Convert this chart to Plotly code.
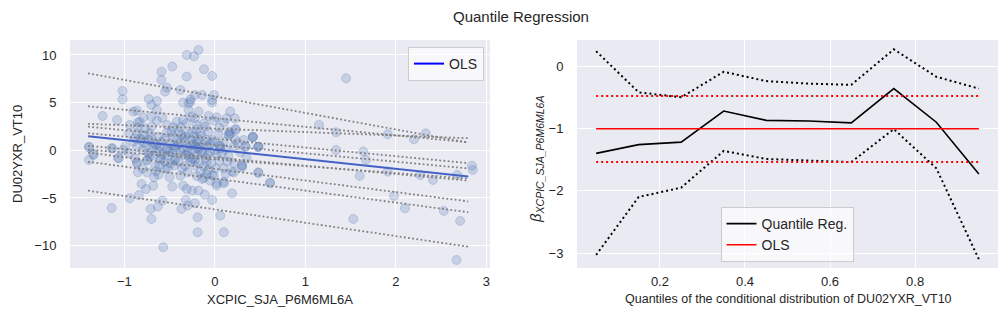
import plotly.graph_objects as go

# ---------------- data ----------------
scatter_xy = [
    # upper-left cloud
    (-0.31, 10.0), (-0.23, 9.86), (-0.47, 8.78), (-0.59, 8.25), (-0.31, 7.73), (-0.59, 7.38),
    (-0.53, 6.57), (-0.55, 6.15), (-0.38, 6.33), (-1.02, 6.22), (-1.02, 5.35), (-0.73, 5.38),
    (-0.64, 5.17), (-0.70, 4.76), (-0.90, 4.06), (-0.86, 4.16), (-0.64, 4.23), (-1.24, 3.60),
    (-1.08, 3.18), (-0.79, 3.43), (-0.70, 3.53), (-0.58, 3.43), (-0.83, 3.00), (-0.64, 3.11),
    (-0.29, 4.93), (-0.29, 4.23), (-0.35, 5.00), (-0.27, 5.35), (-0.42, 3.00), (-0.35, 3.18),
    (-0.53, 2.66), (-0.94, 2.66), (-0.85, 2.41), (-0.77, 2.31), (-0.70, 2.48), (-0.46, 2.41),
    (-0.38, 2.41), (-0.31, 2.83), (-0.26, 3.53), (-0.86, 1.78), (-0.79, 1.61), (-0.72, 1.78),
    (-0.62, 1.43), (-0.53, 1.85), (-0.46, 1.43), (-0.37, 1.61), (-0.29, 1.78), (-0.88, 1.26),
    (-0.81, 1.08), (-0.73, 1.08), (-0.68, 0.73), (-0.59, 0.91), (-0.50, 0.73), (-0.42, 1.08),
    (-0.33, 0.91), (-0.26, 0.56), (-1.39, 0.38), (-1.13, 0.21), (-0.99, 0.38), (-0.86, 0.31),
    (-0.75, 0.45), (-0.64, 0.21), (-0.53, 0.03), (-0.44, 0.03), (-0.35, 0.21),
    # upper-middle cloud
    (-0.18, 10.52), (-0.12, 8.50), (-0.03, 7.80), (-0.01, 5.80), (-0.03, 5.28), (-0.03, 5.00),
    (-0.14, 5.80), (-0.22, 5.80), (-0.27, 5.10), (0.17, 4.06), (-0.18, 4.06), (-0.07, 3.60),
    (0.02, 3.46), (0.13, 3.36), (0.22, 3.36), (-0.22, 3.36), (-0.01, 3.11), (0.10, 2.90),
    (-0.12, 2.83), (-0.20, 2.66), (0.23, 2.13), (0.16, 1.61), (0.16, 1.96), (0.04, 1.78),
    (-0.07, 1.96), (-0.16, 1.78), (0.42, 1.36), (0.32, 1.08), (0.23, 1.08), (0.10, 0.91),
    (-0.03, 1.08), (-0.18, 1.15), (-0.23, 1.43), (0.48, 0.38), (0.34, 0.38), (0.21, 0.45),
    (0.06, 0.45), (-0.09, 0.38), (-0.20, 0.21), (-0.25, 0.91),
    # dense core
    (-0.23, 0.56), (-0.20, 0.91), (-0.16, 0.38), (-0.25, 0.03), (-0.20, -0.49), (-0.22, -1.01),
    (-0.18, -1.36), (-0.12, -1.71), (-0.16, -2.24), (-0.07, -2.06), (0.01, -1.89), (0.10, -1.89),
    (0.14, -1.19), (0.21, -1.36), (0.30, -1.54), (0.02, -0.49), (-0.05, -0.14), (0.06, 0.21),
    (0.15, 1.61), (0.17, 1.78), (0.23, 2.24), (0.34, 0.38), (0.42, 1.43), (0.48, 0.38),
    (-0.44, -0.84), (-0.49, -1.36), (-0.60, -0.84), (-0.52, -1.89), (-0.66, -1.71), (-0.75, -1.01),
    (-0.88, -0.84), (-0.86, -1.36), (-0.95, -0.31), (-1.06, -0.84), (-1.14, 0.21), (-1.01, 0.03),
    (-1.39, 0.31), (-1.34, -0.49), (-0.36, -1.89), (-0.27, -1.19), (-0.09, -1.19), (-0.03, -2.59),
    (0.02, -3.46), (0.10, -3.29), (0.19, -2.24), (-0.01, 0.91), (-0.09, 1.08), (-0.33, 1.43),
    (-0.38, -0.14), (-0.31, -0.49), (-0.42, 0.38), (-0.69, 0.21), (-0.80, 0.03), (-0.73, -0.31),
    (-0.62, -0.14), (-0.53, 0.21), (-0.82, 1.26), (-0.14, -0.30), (-0.10, -0.80), (-0.28, -0.70),
    (0.05, -1.10), (-0.18, 0.10), (-0.30, -0.20), (0.08, -0.30), (-0.12, 0.60), (-0.22, -1.60),
    (-0.65, 0.60), (-0.58, -0.40), (-0.47, -0.30), (-0.40, 0.65), (0.12, 0.10), (-0.04, -1.40),
    (-0.45, 0.50), (-0.55, 1.20), (-0.35, 1.30), (-0.15, 1.50), (-0.05, 0.70), (0.00, 0.00),
    (-0.08, -0.50), (-0.25, -0.90), (-0.35, -0.50), (-0.60, 0.40), (-0.70, 1.30), (-0.78, 0.80),
    (-0.90, 0.90), (-0.95, 1.80), (-0.40, 2.00), (-0.20, 2.20), (0.05, 2.40), (0.25, 0.80),
    (0.15, -0.60), (0.28, -0.20), (-0.12, -2.90), (-0.30, -2.30), (-0.45, -1.60), (-0.55, -1.20),
    (-0.65, -2.20), (-0.80, -1.90), (-0.25, 1.90), (-0.48, 1.90), (-0.10, 2.50), (0.35, -0.80),
    (-0.60, -1.00), (-0.05, -3.20), (-0.30, 0.30), (-0.15, -0.10), (0.05, 0.50), (-0.50, -0.10),
    (-0.72, -0.60), (-0.40, -1.20), (-0.20, -2.70), (-0.85, 2.90),
    # lower-left cloud
    (-1.39, -1.01), (-1.14, -6.05), (-0.94, -5.03), (-0.84, -4.69), (-0.81, -3.53), (-0.76, -4.06),
    (-0.68, -3.71), (-0.70, -7.20), (-0.71, -6.15), (-0.63, -5.91), (-0.58, -5.28), (-0.57, -10.17),
    (-0.47, -3.81), (-0.37, -6.15), (-0.32, -5.21), (-0.22, -5.56), (-0.30, -5.80), (-0.19, -7.03),
    (-0.19, -8.60), (-0.11, -4.65), (-0.03, -5.21), (0.06, -6.85), (0.10, -8.60), (0.19, -4.51),
    (0.02, -3.71), (0.10, -3.46), (0.30, -1.78), (0.48, -2.38), (0.61, -3.46), (-0.25, -4.23),
    (-0.18, -4.23), (-0.14, -3.00), (-0.09, -2.48), (-0.01, -2.66), (0.12, -2.48), (0.21, -2.31),
    (-1.34, -0.38), (-1.07, -0.80), (-0.86, -1.26), (-0.75, -1.08), (-0.85, -2.31), (-0.75, -2.31),
    (-0.67, -2.83), (-0.62, -2.55), (-0.55, -1.96), (-0.50, -2.83), (-0.61, -1.61), (-0.31, -4.06),
    (-0.35, -3.71), (-0.38, -2.66), (-0.33, -1.61), (-0.44, -1.08), (-0.68, -0.56), (-0.53, -0.56),
    # right sparse points
    (1.45, 7.55), (1.15, 2.66), (1.34, 1.89), (1.91, 1.68), (2.20, 1.15), (2.33, 1.78),
    (1.34, 0.03), (1.64, -0.14), (1.67, -1.01), (1.60, -2.69), (1.91, -2.24), (2.27, -2.59),
    (2.41, -3.11), (2.68, -2.59), (2.84, -1.61), (2.85, -2.06), (1.98, -4.79), (2.10, -6.08),
    (2.53, -6.36), (2.71, -7.41), (1.53, -7.20), (2.67, -11.5), (0.61, -3.39), (0.48, -2.31),
    (0.42, 1.40), (0.48, 0.35), (0.30, -1.64),
]
scatter_x = [p[0] for p in scatter_xy]
scatter_y = [p[1] for p in scatter_xy]

# quantile regression results
quantiles = [0.05, 0.15, 0.25, 0.35, 0.45, 0.55, 0.65, 0.75, 0.85, 0.95]
qr_coef = [-1.40, -1.26, -1.22, -0.72, -0.87, -0.88, -0.91, -0.36, -0.90, -1.73]
qr_lower = [-3.03, -2.10, -1.95, -1.36, -1.49, -1.51, -1.54, -1.01, -1.64, -3.10]
qr_upper = [0.24, -0.42, -0.50, -0.09, -0.24, -0.28, -0.30, 0.27, -0.17, -0.36]
qr_intercept = [-6.20, -2.97, -1.95, -0.95, -0.75, 0.56, 1.20, 2.27, 3.36, 5.65]

ols_coef = -1.005
ols_intercept = 0.06
ols_lower = -1.54
ols_upper = -0.48

line_x = [-1.40, 2.80]

# ---------------- figure ----------------
W, H = 1008, 327
L_dom = [70 / W, 490 / W]
R_dom = [577 / W, 998 / W]
Y_dom = [1 - 268 / H, 1 - 40 / H]

fig = go.Figure()

fig.add_trace(go.Scatter(
    x=scatter_x, y=scatter_y, mode="markers", xaxis="x", yaxis="y", showlegend=False,
    marker=dict(size=9, color="rgba(76,114,176,0.22)",
                line=dict(color="rgba(76,114,176,0.25)", width=1)),
))

for a, b in zip(qr_intercept, qr_coef):
    fig.add_trace(go.Scatter(
        x=line_x, y=[a + b * xv for xv in line_x], mode="lines", xaxis="x", yaxis="y",
        showlegend=False, line=dict(color="grey", width=1.8, dash="1.8px,2.4px"),
    ))

fig.add_trace(go.Scatter(
    x=line_x, y=[ols_intercept + ols_coef * xv for xv in line_x], mode="lines",
    xaxis="x", yaxis="y", showlegend=False, line=dict(color="#4462C6", width=2),
))
fig.add_trace(go.Scatter(
    x=[None], y=[None], mode="lines", xaxis="x", yaxis="y", name="OLS",
    legend="legend", line=dict(color="blue", width=2),
))

# right panel
fig.add_trace(go.Scatter(
    x=quantiles, y=qr_coef, mode="lines", xaxis="x2", yaxis="y2", name="Quantile Reg.",
    legend="legend2", line=dict(color="black", width=1.6),
))
fig.add_trace(go.Scatter(
    x=quantiles, y=qr_upper, mode="lines", xaxis="x2", yaxis="y2", showlegend=False,
    line=dict(color="black", width=2, dash="2px,3px"),
))
fig.add_trace(go.Scatter(
    x=quantiles, y=qr_lower, mode="lines", xaxis="x2", yaxis="y2", showlegend=False,
    line=dict(color="black", width=2, dash="2px,3px"),
))
ends = [quantiles[0], quantiles[-1]]
fig.add_trace(go.Scatter(
    x=ends, y=[ols_coef] * 2, mode="lines", xaxis="x2", yaxis="y2", name="OLS",
    legend="legend2", line=dict(color="red", width=1.6),
))
fig.add_trace(go.Scatter(
    x=ends, y=[ols_upper] * 2, mode="lines", xaxis="x2", yaxis="y2", showlegend=False,
    line=dict(color="red", width=2, dash="2px,3px"),
))
fig.add_trace(go.Scatter(
    x=ends, y=[ols_lower] * 2, mode="lines", xaxis="x2", yaxis="y2", showlegend=False,
    line=dict(color="red", width=2, dash="2px,3px"),
))

FONT = "Liberation Sans, Arial, sans-serif"
TXT = "#262626"
axis_common = dict(showgrid=True, gridcolor="white", gridwidth=1, zeroline=False,
                   showline=False, ticks="outside", tickcolor="rgba(0,0,0,0)",
                   tickfont=dict(size=13, color=TXT, family=FONT), automargin=False)

fig.update_layout(
    width=W, height=H, margin=dict(l=0, r=0, t=0, b=0),
    paper_bgcolor="white", plot_bgcolor="#EAEAF2",
    font=dict(family=FONT, color=TXT),
    xaxis=dict(domain=L_dom, anchor="y", range=[-1.60, 3.04], tickvals=[-1, 0, 1, 2, 3],
               ticklen=1, **axis_common),
    yaxis=dict(domain=Y_dom, anchor="x", range=[-12.35, 11.57], tickvals=[-10, -5, 0, 5, 10],
               ticklen=10, **axis_common),
    xaxis2=dict(domain=R_dom, anchor="y2", range=[0.005, 0.995], tickvals=[0.2, 0.4, 0.6, 0.8],
                ticklen=1, **axis_common),
    yaxis2=dict(domain=Y_dom, anchor="x2", range=[-3.24, 0.42], tickvals=[-3, -2, -1, 0],
                ticklen=10, **axis_common),
    legend=dict(x=484 / W, y=1 - 47 / H, xanchor="right", yanchor="top",
                bgcolor="rgba(255,255,255,0.65)", bordercolor="#CCCCCC", borderwidth=1,
                font=dict(size=14, color=TXT, family=FONT)),
    legend2=dict(x=787 / W, y=1 - 262 / H, xanchor="center", yanchor="bottom",
                 bgcolor="rgba(255,255,255,0.65)", bordercolor="#CCCCCC", borderwidth=1,
                 font=dict(size=14, color=TXT, family=FONT), tracegroupgap=0),
    annotations=[
        dict(text="Quantile Regression", x=0.517, y=1 - 17 / H, xref="paper", yref="paper",
             showarrow=False, xanchor="center", yanchor="middle",
             font=dict(size=15, color=TXT, family=FONT)),
        dict(text="XCPIC_SJA_P6M6ML6A", x=280 / W, y=1 - 299 / H, xref="paper", yref="paper",
             showarrow=False, xanchor="center", yanchor="middle",
             font=dict(size=13, color=TXT, family=FONT)),
        dict(text="Quantiles of the conditional distribution of DU02YXR_VT10", x=788 / W,
             y=1 - 299 / H, xref="paper", yref="paper", showarrow=False, xanchor="center",
             yanchor="middle", font=dict(size=12.5, color=TXT, family=FONT)),
        dict(text="DU02YXR_VT10", x=17 / W, y=1 - 154 / H, xref="paper", yref="paper",
             showarrow=False, textangle=-90, xanchor="center", yanchor="middle",
             font=dict(size=13, color=TXT, family=FONT)),
        dict(text="<i>β</i><sub><i>XCPIC_SJA_P6M6ML6A</i></sub>", x=536 / W, y=1 - 160 / H,
             xref="paper", yref="paper", showarrow=False, textangle=-90, xanchor="center",
             yanchor="middle", font=dict(size=15, color=TXT, family=FONT)),
    ],
)

fig.write_html("out.html")
